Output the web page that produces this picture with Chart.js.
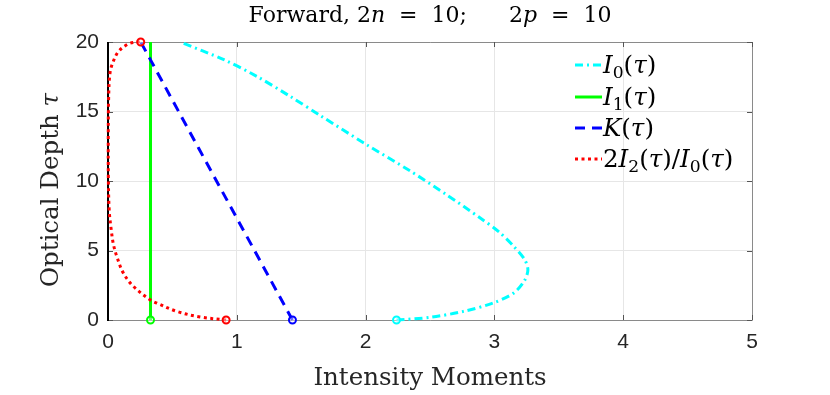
<!DOCTYPE html>
<html>
<head>
<meta charset="utf-8">
<script src="https://cdn.jsdelivr.net/npm/chart.js@4"></script>
<style>
  html, body { margin: 0; padding: 0; background: #fff; }
  #wrap { width: 830px; height: 395px; }
</style>
</head>
<body>
<div id="wrap"><canvas id="myChart" width="830" height="395"></canvas></div>
<script>
// I0(tau), desde tau = 0 hacia arriba
const i0X = [2.24, 2.50, 2.76, 2.99, 3.15, 3.235, 3.26, 3.235, 3.15, 3.04, 2.89, 2.63, 2.35, 2.01, 1.65, 1.414, 1.155, 0.90, 0.56];
const i0Y = [0, 0.19, 0.62, 1.22, 1.94, 2.85, 3.62, 4.35, 5.30, 6.30, 7.34, 9.0, 10.7, 12.6, 14.7, 16.09, 17.53, 18.73, 20];

// I1(tau) - constante
const i1X = [0.33, 0.33];
const i1Y = [0, 20];

// K(tau)
const kX = [1.432, 0.703, 0.329, 0.254];
const kY = [0, 12.37, 18.73, 20];

// 2 I2(tau) / I0(tau)
const rX = [0.917, 0.715, 0.534, 0.378, 0.326, 0.197, 0.119, 0.068, 0.041, 0.025, 0.01, 0.003, 0.002, 0.005, 0.016, 0.041, 0.080, 0.145, 0.197, 0.254];
const rY = [0, 0.22, 0.62, 1.22, 1.46, 2.42, 3.38, 4.58, 5.49, 6.5, 7.8, 10, 13, 16, 17.8, 18.6, 19.3, 19.8, 19.97, 20];

const xTicks = [0, 1, 2, 3, 4, 5];
const yTicks = [0, 5, 10, 15, 20];

const serif = '"DejaVu Serif", serif';

function toPts(xs, ys) {
    return xs.map((x, i) => ({ x: x, y: ys[i] }));
}

// dibuja texto con trozos en cursiva / subindice
function segWidth(ctx, segs, size) {
    let w = 0;
    segs.forEach(s => {
        const sz = s.sub ? size * 0.7 : size;
        ctx.font = (s.it ? 'italic ' : '') + sz + 'px ' + serif;
        w += ctx.measureText(s.t).width;
    });
    return w;
}

function drawSegs(ctx, segs, x, y, size) {
    let cx = x;
    segs.forEach(s => {
        const sz = s.sub ? size * 0.7 : size;
        ctx.font = (s.it ? 'italic ' : '') + sz + 'px ' + serif;
        ctx.fillText(s.t, cx, s.sub ? y + size * 0.22 : y);
        cx += ctx.measureText(s.t).width;
    });
    return cx;
}

const legendItems = [
    { color: '#00ffff', dash: [8, 4, 2, 4], segs: [{ t: 'I', it: true }, { t: '0', sub: true }, { t: '(' }, { t: 'τ', it: true }, { t: ')' }] },
    { color: '#00ff00', dash: [], segs: [{ t: 'I', it: true }, { t: '1', sub: true }, { t: '(' }, { t: 'τ', it: true }, { t: ')' }] },
    { color: '#0000ff', dash: [10, 7], segs: [{ t: 'K', it: true }, { t: '(' }, { t: 'τ', it: true }, { t: ')' }] },
    { color: '#ff0000', dash: [3, 3.5], segs: [{ t: '2' }, { t: 'I', it: true }, { t: '2', sub: true }, { t: '(' }, { t: 'τ', it: true }, { t: ')/' }, { t: 'I', it: true }, { t: '0', sub: true }, { t: '(' }, { t: 'τ', it: true }, { t: ')' }] }
];

const decor = {
    id: 'decor',
    beforeDatasetsDraw(chart) {
        const ctx = chart.ctx;
        const a = chart.chartArea;
        const xs = chart.scales.x, ys = chart.scales.y;
        ctx.save();
        // marco gris
        ctx.strokeStyle = '#8a8a8a';
        ctx.lineWidth = 1;
        ctx.beginPath();
        ctx.moveTo(a.left, a.top + 0.5); ctx.lineTo(a.right + 0.5, a.top + 0.5);
        ctx.lineTo(a.right + 0.5, a.bottom + 0.5); ctx.lineTo(a.left, a.bottom + 0.5);
        ctx.stroke();
        // marcas hacia dentro
        ctx.strokeStyle = '#555';
        xTicks.forEach(v => {
            const px = Math.round(xs.getPixelForValue(v)) + 0.5;
            ctx.beginPath();
            ctx.moveTo(px, a.bottom); ctx.lineTo(px, a.bottom - 5);
            ctx.moveTo(px, a.top); ctx.lineTo(px, a.top + 5);
            ctx.stroke();
        });
        yTicks.forEach(v => {
            const py = Math.round(ys.getPixelForValue(v)) + 0.5;
            ctx.beginPath();
            ctx.moveTo(a.left, py); ctx.lineTo(a.left + 5, py);
            ctx.moveTo(a.right, py); ctx.lineTo(a.right - 5, py);
            ctx.stroke();
        });
        // eje izquierdo negro
        ctx.strokeStyle = '#000';
        ctx.lineWidth = 2;
        ctx.beginPath();
        ctx.moveTo(a.left, a.top); ctx.lineTo(a.left, a.bottom + 1);
        ctx.stroke();
        ctx.restore();
    },
    afterDraw(chart) {
        const ctx = chart.ctx;
        const a = chart.chartArea;
        const mid = (a.left + a.right) / 2;
        ctx.save();
        ctx.fillStyle = '#000';
        ctx.textBaseline = 'alphabetic';

        // titulo
        const title = [{ t: 'Forward, 2' }, { t: 'n', it: true }, { t: '  =  10;      2' }, { t: 'p', it: true }, { t: '  =  10' }];
        let w = segWidth(ctx, title, 22);
        drawSegs(ctx, title, mid - w / 2, 22, 22);

        // titulo eje x
        ctx.fillStyle = '#262626';
        const xt = [{ t: 'Intensity Moments' }];
        w = segWidth(ctx, xt, 24.5);
        drawSegs(ctx, xt, mid - w / 2, 385, 24.5);

        // titulo eje y
        const yt = [{ t: 'Optical Depth ' }, { t: 'τ', it: true }];
        w = segWidth(ctx, yt, 24.5);
        ctx.save();
        ctx.translate(58, 190);
        ctx.rotate(-Math.PI / 2);
        drawSegs(ctx, yt, -w / 2, 0, 24.5);
        ctx.restore();

        // leyenda
        ctx.fillStyle = '#000';
        const ly = [65, 97, 128, 159];
        legendItems.forEach((it, i) => {
            ctx.save();
            ctx.strokeStyle = it.color;
            ctx.lineWidth = 3;
            ctx.setLineDash(it.dash);
            ctx.beginPath();
            ctx.moveTo(575, ly[i]); ctx.lineTo(602, ly[i]);
            ctx.stroke();
            ctx.restore();
            drawSegs(ctx, it.segs, 603, ly[i] + 8, 24.5);
        });
        ctx.restore();
    }
};

function marks(idx) {
    return c => idx.includes(c.dataIndex) ? 3.5 : 0;
}

function makeDataset(label, xs, ys, color, dash, tension, idx, order) {
    return {
        label: label,
        data: toPts(xs, ys),
        showLine: true,
        borderColor: color,
        backgroundColor: color,
        borderWidth: 3,
        borderDash: dash,
        tension: tension,
        pointRadius: marks(idx),
        pointBorderWidth: 2,
        pointBackgroundColor: 'rgba(255,255,255,0.4)',
        pointBorderColor: color,
        clip: false,
        order: order
    };
}

const ctx = document.getElementById('myChart').getContext('2d');
const myChart = new Chart(ctx, {
    type: 'scatter',
    data: {
        datasets: [
            makeDataset('I0', i0X, i0Y, '#00ffff', [8, 4, 2, 4], 0.3, [0], 4),
            makeDataset('I1', i1X, i1Y, '#00ff00', [], 0, [0], 3),
            makeDataset('K', kX, kY, '#0000ff', [10, 7], 0, [0], 2),
            makeDataset('2I2/I0', rX, rY, '#ff0000', [3, 3.5], 0.35, [0, rX.length - 1], 1)
        ]
    },
    options: {
        responsive: false,
        animation: false,
        events: [],
        layout: { padding: { top: 42, left: 0, right: 78, bottom: 0 } },
        plugins: {
            legend: { display: false },
            title: { display: false },
            tooltip: { enabled: false }
        },
        scales: {
            x: {
                type: 'linear',
                min: 0, max: 5,
                afterBuildTicks: s => { s.ticks = xTicks.map(v => ({ value: v })); },
                afterFit: s => { s.height = 75; },
                grid: { color: '#e6e6e6', drawTicks: false },
                border: { display: false },
                ticks: {
                    padding: 10,
                    color: '#262626',
                    font: { family: '"Liberation Sans", Arial, sans-serif', size: 21 }
                }
            },
            y: {
                type: 'linear',
                min: 0, max: 20,
                afterBuildTicks: s => { s.ticks = yTicks.map(v => ({ value: v })); },
                afterFit: s => { s.width = 108; },
                grid: { color: '#e6e6e6', drawTicks: false },
                border: { display: false },
                ticks: {
                    padding: 9,
                    color: '#262626',
                    font: { family: '"Liberation Sans", Arial, sans-serif', size: 21 }
                }
            }
        }
    },
    plugins: [decor]
});
</script>
</body>
</html>
